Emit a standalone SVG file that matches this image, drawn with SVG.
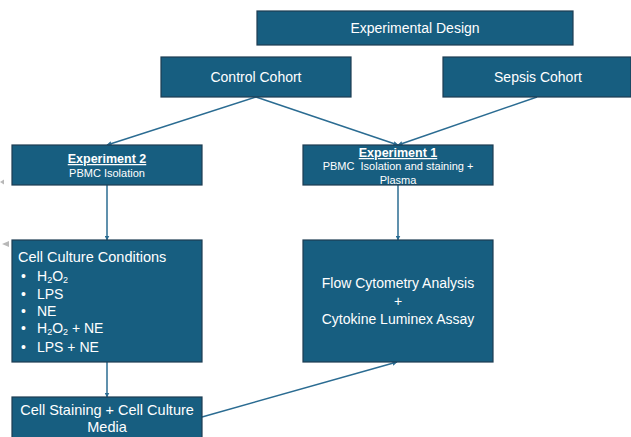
<svg xmlns="http://www.w3.org/2000/svg" width="631" height="437" viewBox="0 0 631 437">
<style>
.box{fill:#175e80;stroke:#1d3c52;stroke-width:1.2}
.t{font-family:"Liberation Sans",Arial,sans-serif;fill:#ffffff;font-size:14px}
.c{text-anchor:middle}
.b{font-weight:bold;font-size:12.5px;text-decoration:underline}
.s{font-size:11px}
.conn line{stroke:#2b6c92;stroke-width:1.5;fill:none}
.h{fill:#b8b8b8}
</style>
<defs>
<marker id="ah" viewBox="0 0 10 10" refX="9" refY="5" markerWidth="5" markerHeight="5" orient="auto" markerUnits="userSpaceOnUse">
<path d="M0,0 L10,5 L0,10 z" fill="#2b6c92"/>
</marker>
</defs>
<rect width="631" height="437" fill="#ffffff"/>
<g class="conn">
<line x1="256" y1="97" x2="107" y2="145" marker-end="url(#ah)"/>
<line x1="256" y1="97" x2="398" y2="145" marker-end="url(#ah)"/>
<line x1="537" y1="97" x2="398" y2="145" marker-end="url(#ah)"/>
<line x1="107" y1="185" x2="107" y2="240" marker-end="url(#ah)"/>
<line x1="398" y1="185" x2="398" y2="240" marker-end="url(#ah)"/>
<line x1="107" y1="362" x2="107" y2="397" marker-end="url(#ah)"/>
<line x1="202" y1="417" x2="397" y2="362" marker-end="url(#ah)"/>
</g>
<g id="experimental-design">
<rect class="box" x="257" y="11" width="316" height="34"/>
<text class="t c" x="415" y="33">Experimental Design</text>
</g>
<g id="control-cohort">
<rect class="box" x="161" y="57" width="190" height="40"/>
<text class="t c" x="256" y="82">Control Cohort</text>
</g>
<g id="sepsis-cohort">
<rect class="box" x="443" y="57" width="188" height="40"/>
<text class="t c" x="538" y="82">Sepsis Cohort</text>
</g>
<g id="experiment-2">
<rect class="box" x="12" y="145" width="190" height="40"/>
<text class="t c b" x="107" y="163">Experiment 2</text>
<text class="t c s" x="107" y="177">PBMC Isolation</text>
</g>
<g id="experiment-1">
<rect class="box" x="303" y="145" width="190" height="40"/>
<text class="t c b" x="398" y="157">Experiment 1</text>
<text class="t c s" x="398" y="170" xml:space="preserve">PBMC  Isolation and staining +</text>
<text class="t c s" x="398" y="184">Plasma</text>
</g>
<g id="cell-culture-conditions">
<rect class="box" x="12" y="240" width="190" height="122"/>
<text class="t" x="18" y="262" style="font-size:14.5px">Cell Culture Conditions</text>
<text class="t" x="21" y="281">•</text>
<text class="t" x="37" y="281">H<tspan dy="2" font-size="9">2</tspan><tspan dy="-2">O</tspan><tspan dy="2" font-size="9">2</tspan></text>
<text class="t" x="21" y="299">•</text>
<text class="t" x="37" y="299">LPS</text>
<text class="t" x="21" y="316">•</text>
<text class="t" x="37" y="316">NE</text>
<text class="t" x="21" y="333">•</text>
<text class="t" x="37" y="333">H<tspan dy="2" font-size="9">2</tspan><tspan dy="-2">O</tspan><tspan dy="2" font-size="9">2</tspan><tspan dy="-2"> + NE</tspan></text>
<text class="t" x="21" y="352">•</text>
<text class="t" x="37" y="352">LPS + NE</text>
</g>
<g id="flow-cytometry">
<rect class="box" x="303" y="240" width="190" height="122"/>
<text class="t c" x="398" y="288">Flow Cytometry Analysis</text>
<text class="t c" x="398" y="306">+</text>
<text class="t c" x="398" y="324">Cytokine Luminex Assay</text>
</g>
<g id="cell-staining">
<rect class="box" x="12" y="397" width="190" height="45"/>
<text class="t c" x="107" y="415" style="font-size:14.5px">Cell Staining + Cell Culture</text>
<text class="t c" x="107" y="432" style="font-size:14.5px">Media</text>
</g>
<polygon class="h" points="0,182 4,179.5 4,184.5"/>
<polygon class="h" points="2,244 9,241 9,247"/>
</svg>
